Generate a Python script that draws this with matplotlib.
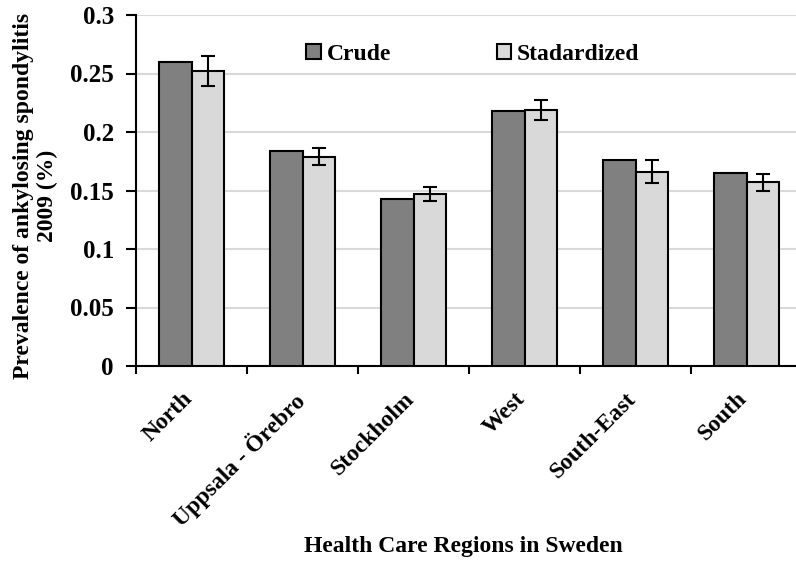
import matplotlib
matplotlib.use('agg')
import numpy as np
import matplotlib.pyplot as plt
from matplotlib.transforms import ScaledTranslation

# prevalence per health care region, 2009
regions = ["North", "Uppsala - Örebro", "Stockholm", "West", "South-East", "South"]
crude = [0.260, 0.184, 0.143, 0.218, 0.176, 0.165]
standardized = [0.252, 0.179, 0.147, 0.219, 0.166, 0.157]
std_err = [0.013, 0.0074, 0.0063, 0.0085, 0.010, 0.0074]

plt.rcParams['font.family'] = ['Liberation Serif', 'DejaVu Serif']
plt.rcParams['font.weight'] = 'bold'

fig = plt.figure(figsize=(7.96, 5.62), dpi=100)
ax = fig.add_axes([136 / 796, 1 - 366 / 562, 666 / 796, 351 / 562])

x = np.arange(len(regions))
w = 0.293
ax.bar(x - w / 2, crude, w, color='#808080', edgecolor='black', linewidth=1.5,
       label='Crude', zorder=3)
ax.bar(x + w / 2, standardized, w, color='#d9d9d9', edgecolor='black', linewidth=1.5,
       label='Stadardized', zorder=3)
ax.errorbar(x + w / 2, standardized, yerr=std_err, fmt='none', ecolor='black',
            elinewidth=1.5, capsize=5, capthick=1.5, zorder=4)

ax.set_xlim(-0.5, len(regions) - 0.5)
ax.set_ylim(0, 0.3)
ax.set_yticks([0, 0.05, 0.1, 0.15, 0.2, 0.25, 0.3])
ax.set_yticklabels(['0', '0.05', '0.1', '0.15', '0.2', '0.25', '0.3'])
ax.yaxis.grid(True, color='#d9d9d9', linewidth=1.5, zorder=0)
ax.set_axisbelow(True)

# category boundaries carry the x ticks, labels sit at the centres
ax.set_xticks(np.arange(len(regions) + 1) - 0.5)
ax.set_xticklabels([])
ax.tick_params(axis='x', which='major', direction='out', length=6, width=1.5)
ax.set_xticks(x, minor=True)
ax.set_xticklabels(regions, minor=True, rotation=45, ha='right',
                   rotation_mode='anchor', fontsize=17, fontweight='bold')
ax.tick_params(axis='x', which='minor', length=0, pad=16)
# nudge the slanted names a little left so their ends sit over the tick
shift = ScaledTranslation(-10 / 100, 0, fig.dpi_scale_trans)
for lbl in ax.get_xticklabels(minor=True):
    lbl.set_transform(lbl.get_transform() + shift)
ax.tick_params(axis='y', direction='out', length=7, width=1.5, labelsize=18, pad=9)

for side in ['top', 'right']:
    ax.spines[side].set_visible(False)
for side in ['left', 'bottom']:
    ax.spines[side].set_linewidth(1.5)

ax.set_ylabel('Prevalence of ankylosing spondylitis\n2009 (%)', fontsize=17,
              fontweight='bold', linespacing=1.2)
ax.yaxis.set_label_coords(-0.117, 0.484)
ax.set_xlabel('Health Care Regions in Sweden', fontsize=17, fontweight='bold')
ax.xaxis.set_label_coords(0.491, -0.485)

ax.legend(loc='center', bbox_to_anchor=(0.506, 0.887), ncol=2, frameon=False,
          handlelength=0.6, handleheight=0.6, handletextpad=0.25,
          columnspacing=4.5, prop={'weight': 'bold', 'size': 17})

plt.savefig('out.png', dpi=100)
plt.close(fig)
